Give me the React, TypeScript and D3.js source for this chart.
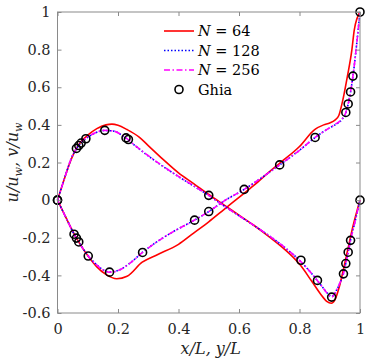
import React, { useEffect, useRef } from "react";
import * as d3 from "d3";

const width = 366;
const height = 362;
const margin = { top: 12, right: 6, bottom: 49, left: 57.5 };
const font = "'DejaVu Serif', 'Liberation Serif', serif";

// v along the horizontal centreline (abscissa x/L)
const vX64 = [0, 0.02, 0.04, 0.0625, 0.08, 0.1, 0.13, 0.16, 0.18, 0.2, 0.23, 0.27, 0.3, 0.35, 0.4, 0.45, 0.5, 0.55, 0.6, 0.65, 0.7, 0.75, 0.8, 0.84, 0.87, 0.89, 0.905, 0.917, 0.93, 0.945, 0.96, 0.975, 1];
const v64 = [0, 0.1, 0.195, 0.275, 0.315, 0.345, 0.38, 0.4, 0.404, 0.398, 0.375, 0.335, 0.29, 0.215, 0.145, 0.088, 0.03, -0.025, -0.08, -0.135, -0.195, -0.26, -0.34, -0.43, -0.5, -0.538, -0.548, -0.53, -0.47, -0.37, -0.26, -0.15, 0];

const vX = [0, 0.01, 0.02, 0.03, 0.045, 0.0625, 0.08, 0.1, 0.125, 0.155, 0.185, 0.22, 0.26, 0.3, 0.35, 0.4, 0.45, 0.5, 0.55, 0.6, 0.65, 0.7, 0.75, 0.8, 0.84, 0.87, 0.89, 0.906, 0.925, 0.935, 0.9453, 0.9531, 0.9609, 0.9688, 0.985, 1];
const v128 = [0, 0.05, 0.1, 0.15, 0.22, 0.273, 0.308, 0.334, 0.357, 0.37, 0.367, 0.337, 0.285, 0.235, 0.178, 0.125, 0.075, 0.025, -0.03, -0.083, -0.135, -0.19, -0.25, -0.32, -0.39, -0.45, -0.49, -0.513, -0.47, -0.435, -0.39, -0.336, -0.276, -0.213, -0.105, 0];
const v256 = [0, 0.05, 0.1, 0.15, 0.22, 0.275, 0.31, 0.335, 0.358, 0.371, 0.367, 0.338, 0.286, 0.236, 0.179, 0.126, 0.076, 0.025, -0.03, -0.083, -0.135, -0.19, -0.25, -0.32, -0.39, -0.45, -0.492, -0.515, -0.47, -0.435, -0.392, -0.337, -0.277, -0.214, -0.105, 0];

// u along the vertical centreline (abscissa y/L)
const uY64 = [0, 0.03, 0.055, 0.07, 0.1, 0.13, 0.16, 0.196, 0.23, 0.28, 0.33, 0.4, 0.45, 0.5, 0.55, 0.6, 0.65, 0.7, 0.735, 0.8, 0.85, 0.88, 0.9, 0.917, 0.93, 0.943, 0.958, 0.973, 0.981, 1];
const u64 = [0, -0.1, -0.18, -0.222, -0.295, -0.355, -0.395, -0.418, -0.405, -0.33, -0.29, -0.235, -0.175, -0.115, -0.05, 0.015, 0.08, 0.15, 0.197, 0.285, 0.375, 0.4, 0.41, 0.425, 0.45, 0.53, 0.655, 0.797, 0.904, 1];

const uY = [0, 0.015, 0.03, 0.0547, 0.0703, 0.085, 0.1016, 0.12, 0.145, 0.1719, 0.2, 0.24, 0.2813, 0.33, 0.38, 0.4531, 0.5, 0.55, 0.6172, 0.68, 0.7344, 0.8, 0.8516, 0.89, 0.92, 0.94, 0.9531, 0.9609, 0.9688, 0.9766, 0.985, 0.993, 1];
const u128 = [0, -0.05, -0.1, -0.18, -0.221, -0.259, -0.296, -0.329, -0.364, -0.382, -0.374, -0.334, -0.277, -0.22, -0.17, -0.106, -0.061, -0.005, 0.057, 0.125, 0.187, 0.265, 0.333, 0.375, 0.403, 0.428, 0.465, 0.51, 0.574, 0.658, 0.77, 0.89, 1];
const u256 = [0, -0.05, -0.1, -0.181, -0.222, -0.26, -0.297, -0.33, -0.365, -0.383, -0.375, -0.335, -0.278, -0.22, -0.17, -0.106, -0.061, -0.005, 0.057, 0.125, 0.187, 0.265, 0.333, 0.375, 0.405, 0.43, 0.466, 0.511, 0.575, 0.659, 0.77, 0.89, 1];

// Ghia et al. reference points
const ghiaX = [0, 0.0625, 0.0703, 0.0781, 0.0938, 0.1563, 0.2266, 0.2344, 0.5, 0.8047, 0.8594, 0.9063, 0.9453, 0.9531, 0.9609, 0.9688, 1];
const ghiaV = [0, 0.27485, 0.29012, 0.30353, 0.32627, 0.37095, 0.33075, 0.32235, 0.02526, -0.31966, -0.42665, -0.5155, -0.39188, -0.33714, -0.27669, -0.21388, 0];
const ghiaY = [0, 0.0547, 0.0625, 0.0703, 0.1016, 0.1719, 0.2813, 0.4531, 0.5, 0.6172, 0.7344, 0.8516, 0.9531, 0.9609, 0.9688, 0.9766, 1];
const ghiaU = [0, -0.18109, -0.20196, -0.2222, -0.2973, -0.38289, -0.27805, -0.10648, -0.0608, 0.05702, 0.18719, 0.33304, 0.46604, 0.51117, 0.57492, 0.65928, 1];

const xTicks = [0, 0.2, 0.4, 0.6, 0.8, 1];
const yTicks = [-0.6, -0.4, -0.2, 0, 0.2, 0.4, 0.6, 0.8, 1];

const series = [
  { label: "64", color: "#ff0000", dash: "none", curves: [[vX64, v64], [uY64, u64]] },
  { label: "128", color: "#0000ff", dash: "1.5 2", curves: [[vX, v128], [uY, u128]] },
  { label: "256", color: "#ff00ff", dash: "6 2.5 1.5 2.5", curves: [[vX, v256], [uY, u256]] },
];

const x = d3.scaleLinear().domain([0, 1]).range([margin.left, width - margin.right]);
const y = d3.scaleLinear().domain([-0.6, 1]).range([height - margin.bottom, margin.top]);

const line = d3
  .line<[number, number]>()
  .x((d) => x(d[0]))
  .y((d) => y(d[1]))
  .curve(d3.curveMonotoneX);

const zip = (a: number[], b: number[]) => a.map((d, i) => [d, b[i]] as [number, number]);

export default function App() {
  const bottomRef = useRef<SVGGElement>(null);
  const leftRef = useRef<SVGGElement>(null);
  const topRef = useRef<SVGGElement>(null);
  const rightRef = useRef<SVGGElement>(null);

  useEffect(() => {
    const style = (g: d3.Selection<SVGGElement, unknown, null, undefined>) => {
      g.attr("font-family", font).attr("font-size", 14.5);
      g.select(".domain").remove();
      g.selectAll(".tick line").attr("stroke", "#8a8a8a");
      g.selectAll(".tick text").attr("fill", "#262626");
    };
    d3.select(bottomRef.current!)
      .call(d3.axisBottom(x).tickValues(xTicks).tickSize(-4).tickPadding(11).tickFormat((d) => String(d)))
      .call(style);
    d3.select(leftRef.current!)
      .call(d3.axisLeft(y).tickValues(yTicks).tickSize(-4).tickPadding(7).tickFormat((d) => String(d)))
      .call(style);
    d3.select(topRef.current!)
      .call(d3.axisTop(x).tickValues(xTicks).tickSize(-4).tickFormat(() => ""))
      .call(style);
    d3.select(rightRef.current!)
      .call(d3.axisRight(y).tickValues(yTicks).tickSize(-4).tickFormat(() => ""))
      .call(style);
  }, []);

  const legendX = 164;
  const legendY = [31, 50.5, 70, 89.5];

  return (
    <svg width={width} height={height} style={{ position: "absolute", left: 0, top: 0 }}>
      <rect width={width} height={height} fill="#fff" />
      {series.map((s) =>
        s.curves.map((c, i) => (
          <path
            key={s.label + i}
            d={line(zip(c[0], c[1])) ?? ""}
            fill="none"
            stroke={s.color}
            strokeWidth={1.6}
            strokeDasharray={s.dash}
          />
        ))
      )}
      {ghiaX.map((d, i) => (
        <circle key={"v" + i} cx={x(d)} cy={y(ghiaV[i])} r={4} fill="none" stroke="#000" strokeWidth={1.6} />
      ))}
      {ghiaY.map((d, i) => (
        <circle key={"u" + i} cx={x(d)} cy={y(ghiaU[i])} r={4} fill="none" stroke="#000" strokeWidth={1.6} />
      ))}
      <rect
        x={margin.left}
        y={margin.top}
        width={width - margin.left - margin.right}
        height={height - margin.top - margin.bottom}
        fill="none"
        stroke="#8a8a8a"
        strokeWidth={1}
      />
      <g ref={bottomRef} transform={`translate(0,${height - margin.bottom})`} />
      <g ref={leftRef} transform={`translate(${margin.left},0)`} />
      <g ref={topRef} transform={`translate(0,${margin.top})`} />
      <g ref={rightRef} transform={`translate(${width - margin.right},0)`} />

      {/* legend */}
      <g style={{ fontFamily: font, fontSize: 14.5 }} fill="#000">
        {series.map((s, i) => (
          <g key={s.label}>
            <line
              x1={legendX}
              x2={legendX + 30}
              y1={legendY[i]}
              y2={legendY[i]}
              stroke={s.color}
              strokeWidth={1.6}
              strokeDasharray={s.dash}
            />
            <text x={legendX + 34} y={legendY[i] + 5}>
              <tspan fontStyle="italic">N</tspan> = {s.label}
            </text>
          </g>
        ))}
        <circle cx={legendX + 15} cy={legendY[3]} r={4} fill="none" stroke="#000" strokeWidth={1.6} />
        <text x={legendX + 34} y={legendY[3] + 5}>Ghia</text>
      </g>

      {/* axis labels */}
      <text
        x={x(0.5) + 2}
        y={354}
        textAnchor="middle"
        style={{ fontFamily: font, fontSize: 16, fontStyle: "italic" }}
        fill="#262626"
      >
        x/L, y/L
      </text>
      <text
        transform={`translate(18,${y(0.2)}) rotate(-90)`}
        textAnchor="middle"
        style={{ fontFamily: font, fontSize: 16, fontStyle: "italic" }}
        fill="#262626"
      >
        u/u<tspan fontSize={11} dy={4}>w</tspan>
        <tspan dy={-4}>, v/u</tspan>
        <tspan fontSize={11} dy={4}>w</tspan>
      </text>
    </svg>
  );
}
